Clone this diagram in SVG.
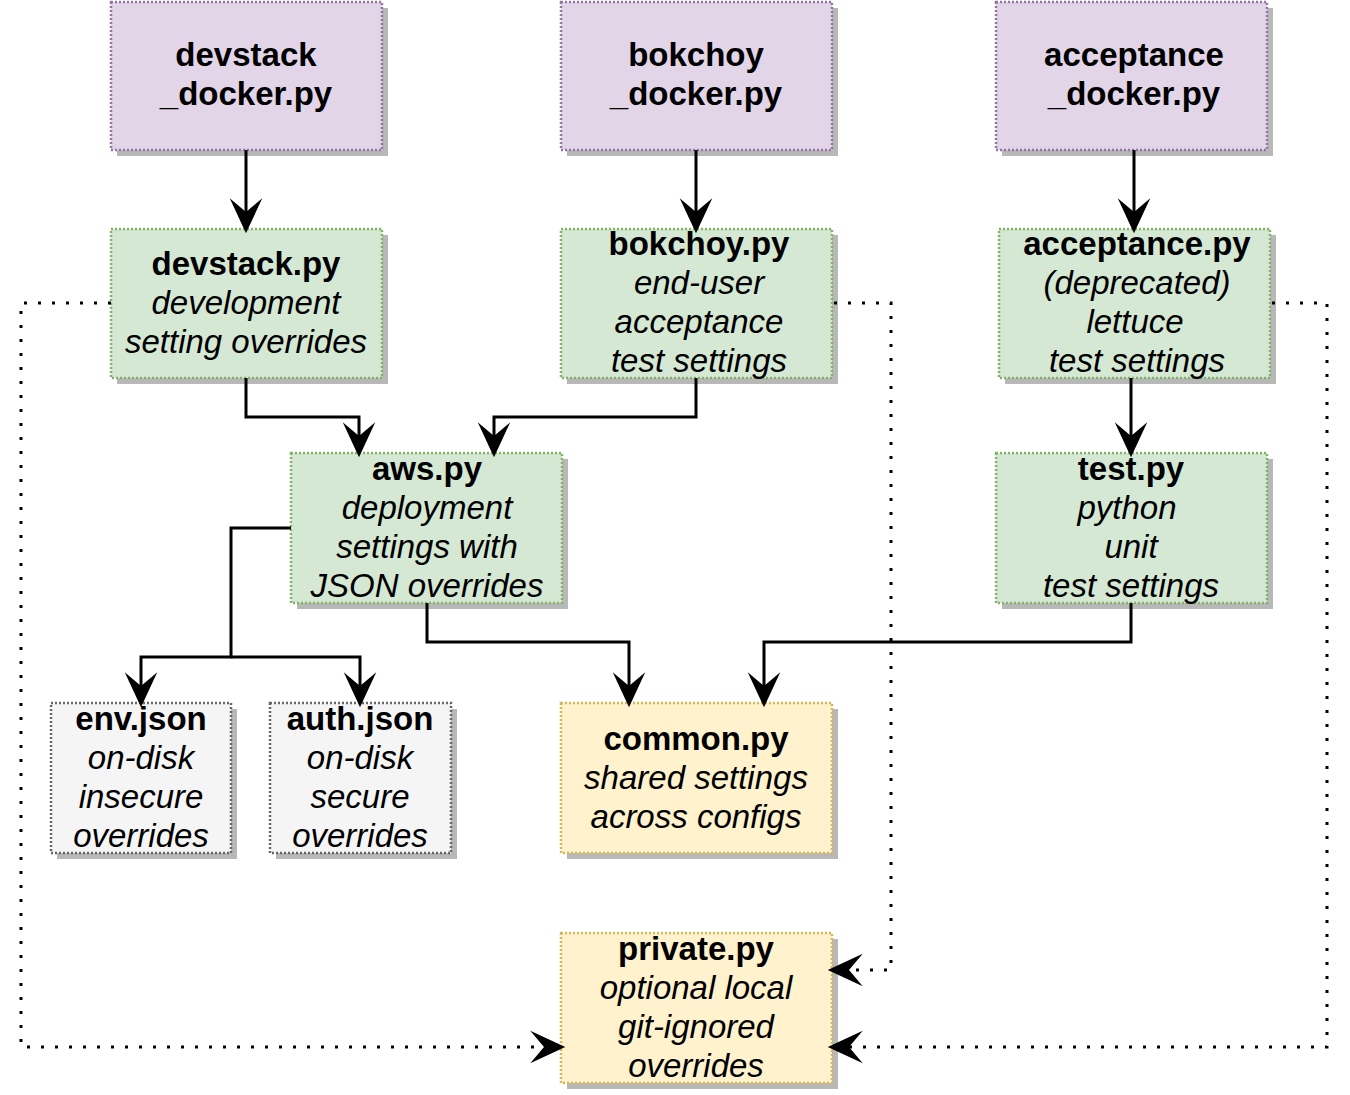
<svg xmlns="http://www.w3.org/2000/svg" width="1350" height="1095" viewBox="0 0 1350 1095">
<style>
.shadow{fill:#b8b8b8;stroke:none}
.box{stroke-width:2.5;stroke-dasharray:2 2}
.purple{fill:#e1d5e7;stroke:#9673a6}
.green{fill:#d5e8d4;stroke:#82b366}
.grey{fill:#f5f5f5;stroke:#666666}
.yellow{fill:#fff2cc;stroke:#d6b656}
text{font-family:"Liberation Sans",Arial,Helvetica,sans-serif;font-size:33px;fill:#000;text-anchor:middle}
.b{font-weight:bold}
.i{font-style:italic}
.edge{fill:none;stroke:#000;stroke-width:3;marker-end:url(#arr)}
.dot{fill:none;stroke:#000;stroke-width:3;stroke-dasharray:3 11;marker-end:url(#arr)}
</style>
<defs>
<marker id="arr" markerUnits="userSpaceOnUse" markerWidth="40" markerHeight="40" viewBox="-12 -15 32 30" refX="0" refY="0" orient="auto" overflow="visible">
<path d="M17,0 L-11,-13 L0,0 L-11,13 Z" fill="#000" stroke="none"/>
</marker>
</defs>
<rect width="1350" height="1095" fill="#ffffff"/>

<g id="devstack_docker">
<rect class="shadow" x="117" y="8" width="271" height="148"/>
<rect class="box purple" x="111" y="2" width="271" height="148"/>
<text class="b" x="246" y="66">devstack</text>
<text class="b" x="246" y="105">_docker.py</text>
</g>
<g id="bokchoy_docker">
<rect class="shadow" x="567" y="8" width="271" height="148"/>
<rect class="box purple" x="561" y="2" width="271" height="148"/>
<text class="b" x="696" y="66">bokchoy</text>
<text class="b" x="696" y="105">_docker.py</text>
</g>
<g id="acceptance_docker">
<rect class="shadow" x="1002" y="8" width="271" height="148"/>
<rect class="box purple" x="996" y="2" width="271" height="148"/>
<text class="b" x="1134" y="66">acceptance</text>
<text class="b" x="1134" y="105">_docker.py</text>
</g>

<g id="devstack">
<rect class="shadow" x="117" y="235" width="271" height="149"/>
<rect class="box green" x="111" y="229" width="271" height="149"/>
<text class="b" x="246" y="275">devstack.py</text>
<text class="i" x="246" y="314">development</text>
<text class="i" x="246" y="353">setting overrides</text>
</g>
<g id="bokchoy">
<rect class="shadow" x="567" y="235" width="271" height="149"/>
<rect class="box green" x="561" y="229" width="271" height="149"/>
<text class="b" x="699" y="255">bokchoy.py</text>
<text class="i" x="699" y="294">end-user</text>
<text class="i" x="699" y="333">acceptance</text>
<text class="i" x="699" y="372">test settings</text>
</g>
<g id="acceptance">
<rect class="shadow" x="1005" y="235" width="271" height="149"/>
<rect class="box green" x="999" y="229" width="271" height="149"/>
<text class="b" x="1137" y="255">acceptance.py</text>
<text class="i" x="1137" y="294">(deprecated)</text>
<text class="i" x="1135" y="333">lettuce</text>
<text class="i" x="1137" y="372">test settings</text>
</g>

<g id="aws">
<rect class="shadow" x="297" y="459" width="271" height="150"/>
<rect class="box green" x="291" y="453" width="271" height="150"/>
<text class="b" x="427" y="480">aws.py</text>
<text class="i" x="427" y="519">deployment</text>
<text class="i" x="427" y="558">settings with</text>
<text class="i" x="427" y="597">JSON overrides</text>
</g>
<g id="test">
<rect class="shadow" x="1002" y="459" width="271" height="150"/>
<rect class="box green" x="996" y="453" width="271" height="150"/>
<text class="b" x="1131" y="480">test.py</text>
<text class="i" x="1127" y="519">python</text>
<text class="i" x="1131" y="558">unit</text>
<text class="i" x="1131" y="597">test settings</text>
</g>

<g id="env_json">
<rect class="shadow" x="57" y="709" width="180" height="150"/>
<rect class="box grey" x="51" y="703" width="180" height="150"/>
<text class="b" x="141" y="730">env.json</text>
<text class="i" x="141" y="769">on-disk</text>
<text class="i" x="141" y="808">insecure</text>
<text class="i" x="141" y="847">overrides</text>
</g>
<g id="auth_json">
<rect class="shadow" x="276" y="709" width="181" height="150"/>
<rect class="box grey" x="270" y="703" width="181" height="150"/>
<text class="b" x="360" y="730">auth.json</text>
<text class="i" x="360" y="769">on-disk</text>
<text class="i" x="360" y="808">secure</text>
<text class="i" x="360" y="847">overrides</text>
</g>
<g id="common">
<rect class="shadow" x="567" y="709" width="271" height="150"/>
<rect class="box yellow" x="561" y="703" width="271" height="150"/>
<text class="b" x="696" y="750">common.py</text>
<text class="i" x="696" y="789">shared settings</text>
<text class="i" x="696" y="828">across configs</text>
</g>
<g id="private">
<rect class="shadow" x="567" y="939" width="271" height="150"/>
<rect class="box yellow" x="561" y="933" width="271" height="150"/>
<text class="b" x="696" y="960">private.py</text>
<text class="i" x="696" y="999">optional local</text>
<text class="i" x="696" y="1038">git-ignored</text>
<text class="i" x="696" y="1077">overrides</text>
</g>

<g id="connectors">
<path class="edge" d="M246,150 V212"/>
<path class="edge" d="M696,150 V212"/>
<path class="edge" d="M1134,150 V212"/>
<path class="edge" d="M246,378 V417 H359 V436"/>
<path class="edge" d="M696,378 V417 H494 V436"/>
<path class="edge" d="M1131,378 V436"/>
<path class="edge" d="M291,528 H231 V657 H141 V686"/>
<path class="edge" d="M231,657 H360 V686"/>
<path class="edge" d="M427,603 V642 H629 V686"/>
<path class="edge" d="M1131,603 V642 H764 V686"/>
<path class="dot" d="M111,303 H21 V1047 H544"/>
<path class="dot" d="M834,303 H891 V970 H849"/>
<path class="dot" d="M1272,303 H1327 V1047 H849"/>
</g>
</svg>
